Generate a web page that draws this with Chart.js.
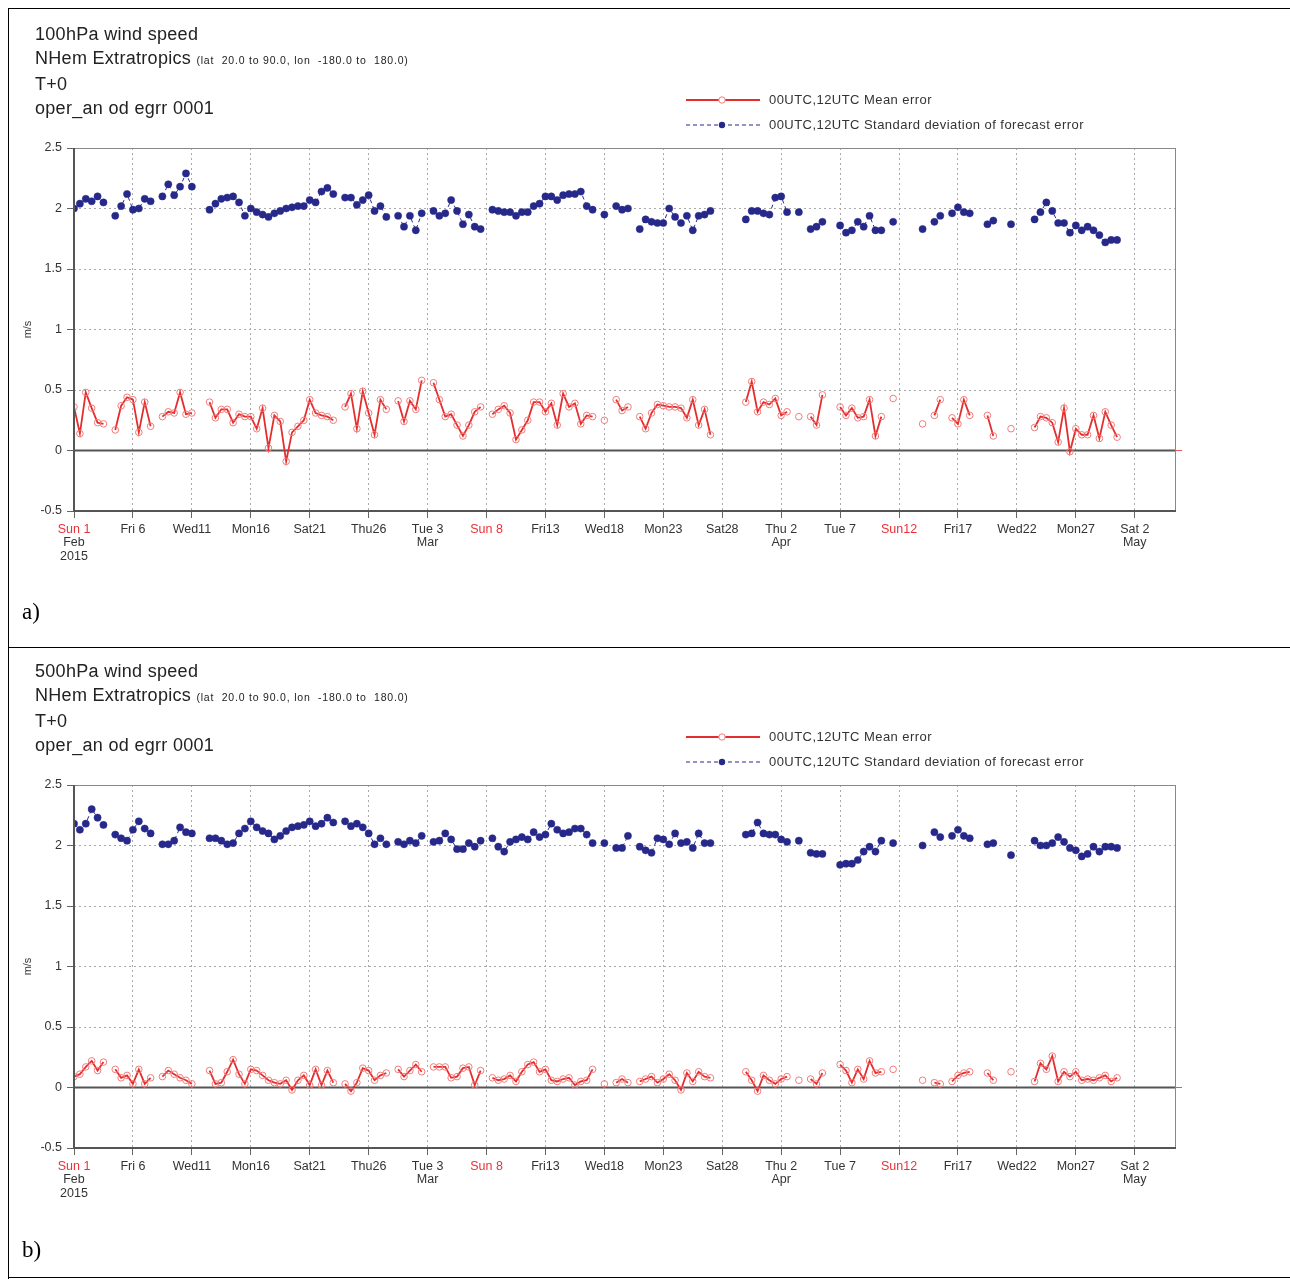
<!DOCTYPE html>
<html>
<head>
<meta charset="utf-8">
<title>Wind speed verification, Feb–Apr 2015</title>
<script src="https://cdn.jsdelivr.net/npm/chart.js@4.4.1/dist/chart.umd.min.js"></script>
<style>
  html, body { margin: 0; padding: 0; background: #fff; }
  body { width: 1290px; height: 1279px; position: relative; overflow: hidden;
         font-family: "Liberation Sans", Arial, sans-serif; color: #222; }
  .panel { position: absolute; left: 0; width: 1290px; height: 637px; }
  .panel canvas { position: absolute; left: 0; top: 0; }
  .hdr { position: absolute; left: 35px; top: 22px; font-size: 18px; letter-spacing: 0.3px; line-height: 24px;
         color: #222; white-space: pre; z-index: 2; }
  .hdr small { font-size: 10.5px; letter-spacing: 0.8px; }
  .leg { position: absolute; left: 686px; width: 440px; height: 16px; font-size: 13px; letter-spacing: 0.45px;
         color: #333; white-space: nowrap; z-index: 2; }
  .leg svg { position: absolute; left: 0; top: 0; }
  .leg span { position: absolute; left: 83px; top: 0; line-height: 16px; }
  .rule { position: absolute; background: #000; z-index: 3; }
  .tag { position: absolute; left: 22px; font-family: "Liberation Serif", "Times New Roman", serif;
         font-size: 23px; color: #000; z-index: 2; }
</style>
</head>
<body>

<div class="rule" style="left:8px;top:8px;width:1282px;height:1px"></div>
<div class="rule" style="left:8px;top:647px;width:1282px;height:1px"></div>
<div class="rule" style="left:8px;top:1277px;width:1282px;height:1px"></div>
<div class="rule" style="left:8px;top:8px;width:1px;height:1271px"></div>

<div class="panel" style="top:0">
  <canvas id="chartA" width="1290" height="637"></canvas>
  <div class="hdr">100hPa wind speed
NHem Extratropics <small>(lat  20.0 to 90.0, lon  -180.0 to  180.0)</small>
T+0
oper_an od egrr 0001</div>
  <div class="leg" style="top:92px">
    <svg width="78" height="16"><line x1="0" y1="8" x2="74" y2="8" stroke="#e52d2d" stroke-width="1.8"/><circle cx="36" cy="8" r="3.2" fill="#fff" stroke="#f27b7b" stroke-width="1"/></svg>
    <span>00UTC,12UTC Mean error</span>
  </div>
  <div class="leg" style="top:117px">
    <svg width="78" height="16"><line x1="0" y1="8" x2="74" y2="8" stroke="#27298a" stroke-width="1.2" stroke-dasharray="4,3"/><circle cx="36" cy="8" r="3.2" fill="#27298a"/></svg>
    <span>00UTC,12UTC Standard deviation of forecast error</span>
  </div>
  <div class="tag" style="top:599px">a)</div>
</div>

<div class="panel" style="top:637px">
  <canvas id="chartB" width="1290" height="637"></canvas>
  <div class="hdr">500hPa wind speed
NHem Extratropics <small>(lat  20.0 to 90.0, lon  -180.0 to  180.0)</small>
T+0
oper_an od egrr 0001</div>
  <div class="leg" style="top:92px">
    <svg width="78" height="16"><line x1="0" y1="8" x2="74" y2="8" stroke="#e52d2d" stroke-width="1.8"/><circle cx="36" cy="8" r="3.2" fill="#fff" stroke="#f27b7b" stroke-width="1"/></svg>
    <span>00UTC,12UTC Mean error</span>
  </div>
  <div class="leg" style="top:117px">
    <svg width="78" height="16"><line x1="0" y1="8" x2="74" y2="8" stroke="#27298a" stroke-width="1.2" stroke-dasharray="4,3"/><circle cx="36" cy="8" r="3.2" fill="#27298a"/></svg>
    <span>00UTC,12UTC Standard deviation of forecast error</span>
  </div>
  <div class="tag" style="top:600px">b)</div>
</div>

<script>
// Verification time axis: days since 1 Feb 2015 00UTC, tick every 5 days
const tickDays = [0, 5, 10, 15, 20, 25, 30, 35, 40, 45, 50, 55, 60, 65, 70, 75, 80, 85, 90];
const tickLabels = ['Sun 1', 'Fri 6', 'Wed11', 'Mon16', 'Sat21', 'Thu26', 'Tue 3', 'Sun 8', 'Fri13',
                    'Wed18', 'Mon23', 'Sat28', 'Thu 2', 'Tue 7', 'Sun12', 'Fri17', 'Wed22', 'Mon27', 'Sat 2'];
const tickSubLabels = [['Feb', '2015'], [], [], [], [], [], ['Mar'], [], [], [], [], [], ['Apr'], [], [], [], [], [], ['May']];
const yTicks = [-0.5, 0, 0.5, 1, 1.5, 2, 2.5];

// 100hPa wind speed, 00UTC and 12UTC runs (m/s); null = no verification
const stdA = [
  2.00, 2.04, 2.08, 2.06, 2.10, 2.05, null, 1.94, 2.02, 2.12,
  1.99, 2.00, 2.08, 2.06, null, 2.10, 2.20, 2.11, 2.18, 2.29,
  2.18, null, null, 1.99, 2.04, 2.08, 2.09, 2.10, 2.05, 1.94,
  2.00, 1.97, 1.95, 1.93, 1.96, 1.98, 2.00, 2.01, 2.02, 2.02,
  2.07, 2.05, 2.14, 2.17, 2.12, null, 2.09, 2.09, 2.03, 2.07,
  2.11, 1.98, 2.02, 1.93, null, 1.94, 1.85, 1.94, 1.82, 1.96,
  null, 1.98, 1.94, 1.96, 2.07, 1.98, 1.87, 1.95, 1.85, 1.83,
  null, 1.99, 1.98, 1.97, 1.97, 1.94, 1.97, 1.97, 2.02, 2.04,
  2.10, 2.10, 2.07, 2.11, 2.12, 2.12, 2.14, 2.02, 1.99, null,
  1.95, null, 2.02, 1.99, 2.00, null, 1.83, 1.91, 1.89, 1.88,
  1.88, 2.00, 1.93, 1.88, 1.94, 1.82, 1.94, 1.95, 1.98, null,
  null, null, null, null, 1.91, 1.98, 1.98, 1.96, 1.95, 2.09,
  2.10, 1.97, null, 1.97, null, 1.83, 1.85, 1.89, null, null,
  1.86, 1.80, 1.82, 1.89, 1.85, 1.94, 1.82, 1.82, null, 1.89,
  null, null, null, null, 1.83, null, 1.89, 1.94, null, 1.96,
  2.01, 1.97, 1.96, null, null, 1.87, 1.90, null, null, 1.87,
  null, null, null, 1.91, 1.97, 2.05, 1.98, 1.88, 1.88, 1.80,
  1.86, 1.82, 1.85, 1.82, 1.78, 1.72, 1.74, 1.74
];
const meanA = [
  0.36, 0.14, 0.48, 0.35, 0.23, 0.22, null, 0.17, 0.37, 0.44,
  0.42, 0.15, 0.40, 0.20, null, 0.28, 0.32, 0.31, 0.48, 0.30,
  0.31, null, null, 0.40, 0.27, 0.34, 0.34, 0.23, 0.30, 0.28,
  0.28, 0.18, 0.35, 0.02, 0.29, 0.24, -0.09, 0.15, 0.20, 0.25,
  0.42, 0.31, 0.29, 0.28, 0.25, null, 0.36, 0.47, 0.18, 0.49,
  0.31, 0.13, 0.42, 0.34, null, 0.41, 0.24, 0.41, 0.34, 0.58,
  null, 0.56, 0.42, 0.28, 0.30, 0.21, 0.12, 0.21, 0.32, 0.36,
  null, 0.30, 0.34, 0.37, 0.31, 0.09, 0.17, 0.25, 0.40, 0.40,
  0.32, 0.39, 0.21, 0.47, 0.36, 0.39, 0.22, 0.29, 0.28, null,
  0.25, null, 0.42, 0.33, 0.36, null, 0.28, 0.18, 0.31, 0.38,
  0.37, 0.36, 0.36, 0.35, 0.27, 0.42, 0.21, 0.34, 0.13, null,
  null, null, null, null, 0.40, 0.57, 0.32, 0.40, 0.38, 0.43,
  0.29, 0.32, null, 0.28, null, 0.28, 0.21, 0.46, null, null,
  0.36, 0.29, 0.35, 0.27, 0.28, 0.42, 0.12, 0.28, null, 0.43,
  null, null, null, null, 0.22, null, 0.29, 0.42, null, 0.27,
  0.22, 0.42, 0.29, null, null, 0.29, 0.12, null, null, 0.18,
  null, null, null, 0.19, 0.28, 0.27, 0.23, 0.07, 0.35, -0.01,
  0.18, 0.13, 0.13, 0.29, 0.10, 0.32, 0.21, 0.11
];

// 500hPa wind speed, 00UTC and 12UTC runs (m/s)
const stdB = [
  2.18, 2.13, 2.18, 2.30, 2.23, 2.17, null, 2.09, 2.06, 2.04,
  2.13, 2.20, 2.14, 2.10, null, 2.01, 2.01, 2.04, 2.15, 2.11,
  2.10, null, null, 2.06, 2.06, 2.04, 2.01, 2.02, 2.10, 2.14,
  2.20, 2.15, 2.12, 2.10, 2.05, 2.08, 2.12, 2.15, 2.16, 2.17,
  2.20, 2.16, 2.18, 2.23, 2.19, null, 2.20, 2.16, 2.18, 2.15,
  2.10, 2.01, 2.06, 2.01, null, 2.03, 2.01, 2.04, 2.02, 2.08,
  null, 2.03, 2.04, 2.10, 2.05, 1.97, 1.97, 2.02, 1.99, 2.04,
  null, 2.06, 1.99, 1.95, 2.03, 2.05, 2.07, 2.05, 2.11, 2.07,
  2.09, 2.18, 2.13, 2.10, 2.11, 2.14, 2.14, 2.09, 2.02, null,
  2.02, null, 1.98, 1.98, 2.08, null, 1.99, 1.96, 1.94, 2.06,
  2.05, 2.01, 2.10, 2.02, 2.03, 1.98, 2.10, 2.02, 2.02, null,
  null, null, null, null, 2.09, 2.10, 2.19, 2.10, 2.09, 2.09,
  2.05, 2.03, null, 2.04, null, 1.94, 1.93, 1.93, null, null,
  1.84, 1.85, 1.85, 1.88, 1.95, 1.99, 1.95, 2.04, null, 2.02,
  null, null, null, null, 2.00, null, 2.11, 2.07, null, 2.08,
  2.13, 2.08, 2.06, null, null, 2.01, 2.02, null, null, 1.92,
  null, null, null, 2.04, 2.00, 2.00, 2.02, 2.07, 2.03, 1.98,
  1.96, 1.91, 1.93, 1.99, 1.95, 1.99, 1.99, 1.98
];
const meanB = [
  0.09, 0.11, 0.17, 0.22, 0.14, 0.21, null, 0.15, 0.08, 0.10,
  0.03, 0.15, 0.03, 0.08, null, 0.09, 0.14, 0.11, 0.08, 0.06,
  0.03, null, null, 0.14, 0.03, 0.04, 0.13, 0.23, 0.11, 0.03,
  0.15, 0.14, 0.10, 0.06, 0.04, 0.03, 0.06, -0.02, 0.06, 0.10,
  0.02, 0.15, 0.02, 0.14, 0.04, null, 0.03, -0.03, 0.04, 0.16,
  0.14, 0.06, 0.10, 0.12, null, 0.15, 0.09, 0.14, 0.19, 0.13,
  null, 0.17, 0.17, 0.17, 0.08, 0.09, 0.16, 0.17, 0.02, 0.14,
  null, 0.08, 0.06, 0.07, 0.10, 0.05, 0.13, 0.19, 0.21, 0.13,
  0.15, 0.06, 0.05, 0.07, 0.08, 0.02, 0.05, 0.06, 0.15, null,
  0.03, null, 0.04, 0.07, 0.04, null, 0.05, 0.07, 0.09, 0.04,
  0.07, 0.11, 0.06, -0.02, 0.12, 0.05, 0.13, 0.09, 0.08, null,
  null, null, null, null, 0.13, 0.06, -0.03, 0.10, 0.06, 0.03,
  0.07, 0.09, null, 0.06, null, 0.07, 0.03, 0.12, null, null,
  0.19, 0.14, 0.04, 0.15, 0.07, 0.22, 0.12, 0.13, null, 0.15,
  null, null, null, null, 0.06, null, 0.04, 0.03, null, 0.05,
  0.10, 0.12, 0.13, null, null, 0.12, 0.06, null, null, 0.13,
  null, null, null, 0.05, 0.20, 0.15, 0.26, 0.05, 0.13, 0.09,
  0.13, 0.06, 0.07, 0.06, 0.08, 0.10, 0.05, 0.08
];

// one verification every 12 hours
const times = stdA.map((_, i) => i * 0.5);

const RED = '#e52d2d';
const PINK = '#f27b7b';
const NAVY = '#27298a';
const SUN_RED = '#e8323a';
const FONT = '"Liberation Sans", Arial, sans-serif';

// zero reference line, plot frame and the month / year lines under the date ticks
const framePlugin = {
  id: 'framePlugin',
  beforeDatasetsDraw(chart) {
    const { ctx, chartArea: a, scales: { y } } = chart;
    const y0 = y.getPixelForValue(0);
    ctx.save();
    ctx.strokeStyle = '#f05050';
    ctx.lineWidth = 1;
    ctx.beginPath(); ctx.moveTo(a.right, y0); ctx.lineTo(a.right + 6, y0); ctx.stroke();
    ctx.strokeStyle = '#555';
    ctx.lineWidth = 2;
    ctx.beginPath(); ctx.moveTo(a.left, y0); ctx.lineTo(a.right, y0); ctx.stroke();
    ctx.restore();
  },
  afterDraw(chart) {
    const { ctx, chartArea: a, scales: { x } } = chart;
    ctx.save();
    ctx.strokeStyle = '#888';
    ctx.lineWidth = 1;
    ctx.strokeRect(a.left + 0.5, a.top + 0.5, a.right - a.left - 1, a.bottom - a.top - 1);
    ctx.strokeStyle = '#555';
    ctx.lineWidth = 2;
    ctx.beginPath();
    ctx.moveTo(a.left, a.top); ctx.lineTo(a.left, a.bottom); ctx.lineTo(a.right, a.bottom);
    ctx.stroke();
    ctx.fillStyle = '#333';
    ctx.font = '12.5px ' + FONT;
    ctx.textAlign = 'center';
    ctx.textBaseline = 'middle';
    tickDays.forEach((d, k) => {
      const px = x.getPixelForValue(d);
      tickSubLabels[k].forEach((txt, j) => ctx.fillText(txt, px, a.bottom + 32 + j * 14));
    });
    ctx.restore();
  }
};

function makeChart(id, mean, std) {
  const pts = arr => arr.map((v, i) => ({ x: times[i], y: v }));
  return new Chart(document.getElementById(id), {
    type: 'line',
    data: {
      datasets: [
        {
          label: '00UTC,12UTC Standard deviation of forecast error',
          data: pts(std),
          borderColor: NAVY, borderWidth: 1, borderDash: [4, 3],
          pointRadius: 3.6, pointBackgroundColor: NAVY, pointBorderColor: NAVY, pointBorderWidth: 0.5,
          spanGaps: false, tension: 0
        },
        {
          label: '00UTC,12UTC Mean error',
          data: pts(mean),
          borderColor: RED, borderWidth: 1.8,
          pointRadius: 3.3, pointBackgroundColor: 'rgba(255,255,255,0)', pointBorderColor: PINK, pointBorderWidth: 1,
          spanGaps: false, tension: 0
        }
      ]
    },
    options: {
      responsive: false,
      animation: false,
      events: [],
      layout: { padding: { top: 148, right: 114, bottom: 0, left: 0 } },
      plugins: { legend: { display: false }, tooltip: { enabled: false }, title: { display: false } },
      scales: {
        x: {
          type: 'linear', min: 0, max: 93.5,
          afterBuildTicks: ax => { ax.ticks = tickDays.map(v => ({ value: v })); },
          afterFit: s => { s.height = 126; },
          grid: { color: '#aaa', lineWidth: 1, tickLength: 7, tickColor: '#666', tickWidth: 1, tickBorderDash: [] },
          border: { display: false, dash: [2, 3] },
          ticks: {
            autoSkip: false, maxRotation: 0, minRotation: 0, padding: 4,
            font: { family: FONT, size: 12.5 },
            color: c => (tickLabels[c.index] || '').startsWith('Sun') ? SUN_RED : '#333',
            callback: v => tickLabels[tickDays.indexOf(v)]
          }
        },
        y: {
          min: -0.5, max: 2.5,
          afterBuildTicks: ax => { ax.ticks = yTicks.map(v => ({ value: v })); },
          afterFit: s => { s.width = 74; },
          grid: { color: '#aaa', lineWidth: 1, tickLength: 7, tickColor: '#666', tickWidth: 1, tickBorderDash: [] },
          border: { display: false, dash: [2, 3] },
          ticks: { padding: 5, font: { family: FONT, size: 12.5 }, color: '#333', callback: v => String(v) },
          title: { display: true, text: 'm/s', font: { family: FONT, size: 11 }, color: '#333', padding: { top: 21, bottom: 0 } }
        }
      }
    },
    plugins: [framePlugin]
  });
}

makeChart('chartA', meanA, stdA);
makeChart('chartB', meanB, stdB);
</script>
</body>
</html>
